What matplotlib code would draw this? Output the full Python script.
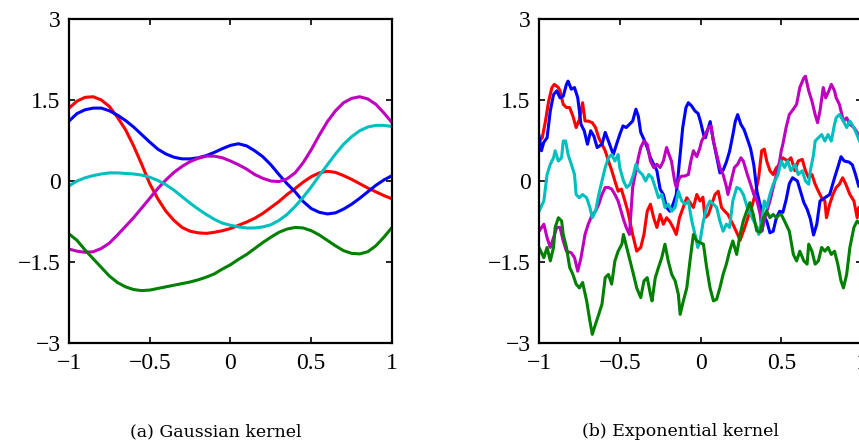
import matplotlib
matplotlib.use("Agg")
import matplotlib.pyplot as plt

# ---- (a) Gaussian kernel: values at a 0.05 step -------------------------------
gx = [-1.00, -0.95, -0.90, -0.85, -0.80, -0.75, -0.70, -0.65, -0.60, -0.55,
      -0.50, -0.45, -0.40, -0.35, -0.30, -0.25, -0.20, -0.15, -0.10, -0.05,
      0.00, 0.05, 0.10, 0.15, 0.20, 0.25, 0.30, 0.35, 0.40, 0.45,
      0.50, 0.55, 0.60, 0.65, 0.70, 0.75, 0.80, 0.85, 0.90, 0.95, 1.00]
g_red = [1.35, 1.48, 1.55, 1.56, 1.50, 1.38, 1.18, 0.95, 0.65, 0.31,
         -0.05, -0.33, -0.56, -0.73, -0.86, -0.93, -0.96, -0.97, -0.95, -0.92,
         -0.88, -0.82, -0.76, -0.69, -0.60, -0.49, -0.38, -0.25, -0.14, -0.02,
         0.08, 0.15, 0.18, 0.16, 0.10, 0.03, -0.05, -0.13, -0.20, -0.27, -0.33]
g_blue = [1.11, 1.25, 1.32, 1.35, 1.35, 1.30, 1.22, 1.12, 1.00, 0.86,
          0.72, 0.59, 0.50, 0.44, 0.41, 0.41, 0.43, 0.47, 0.53, 0.60,
          0.66, 0.69, 0.65, 0.56, 0.45, 0.30, 0.12, -0.05, -0.20, -0.38,
          -0.51, -0.58, -0.61, -0.59, -0.52, -0.43, -0.32, -0.20, -0.08, 0.02, 0.10]
g_mag = [-1.26, -1.30, -1.32, -1.31, -1.25, -1.15, -1.00, -0.84, -0.68, -0.50,
         -0.32, -0.14, 0.02, 0.16, 0.27, 0.36, 0.42, 0.46, 0.46, 0.43,
         0.37, 0.30, 0.22, 0.12, 0.05, 0.00, -0.01, 0.04, 0.15, 0.34,
         0.58, 0.85, 1.10, 1.30, 1.45, 1.53, 1.56, 1.52, 1.42, 1.26, 1.08]
g_cyan = [-0.09, 0.00, 0.06, 0.10, 0.13, 0.15, 0.15, 0.14, 0.13, 0.11,
          0.07, 0.01, -0.07, -0.17, -0.29, -0.41, -0.52, -0.62, -0.71, -0.78,
          -0.82, -0.85, -0.87, -0.87, -0.85, -0.81, -0.73, -0.62, -0.47, -0.30,
          -0.11, 0.10, 0.30, 0.50, 0.68, 0.82, 0.93, 1.00, 1.03, 1.03, 1.01]
g_green = [-0.98, -1.10, -1.28, -1.44, -1.60, -1.76, -1.88, -1.96, -2.01, -2.03,
           -2.02, -1.99, -1.96, -1.93, -1.90, -1.87, -1.83, -1.78, -1.72, -1.63,
           -1.55, -1.45, -1.36, -1.25, -1.14, -1.04, -0.95, -0.89, -0.86, -0.87,
           -0.92, -1.00, -1.10, -1.20, -1.29, -1.34, -1.35, -1.31, -1.20, -1.04, -0.86]

# ---- (b) Exponential kernel: rough paths ---------------------------------------
eb_x = [-1.0, -0.985, -0.97, -0.95, -0.93, -0.91, -0.89, -0.87, -0.85, -0.83,
        -0.82, -0.80, -0.78, -0.76, -0.74, -0.72, -0.70, -0.68, -0.66, -0.64,
        -0.61, -0.59, -0.57, -0.54, -0.52, -0.50, -0.48, -0.46, -0.44, -0.42,
        -0.40, -0.385, -0.37, -0.35, -0.33, -0.31, -0.29, -0.27, -0.25, -0.23,
        -0.21, -0.19, -0.17, -0.15, -0.13, -0.11, -0.09, -0.075, -0.055, -0.035,
        -0.015, 0.0, 0.02, 0.03, 0.045, 0.06, 0.08, 0.10, 0.12, 0.14,
        0.16, 0.18, 0.20, 0.215, 0.23, 0.25, 0.27, 0.29, 0.31, 0.33,
        0.35, 0.37, 0.39, 0.41, 0.43, 0.45, 0.47, 0.49, 0.51, 0.53,
        0.55, 0.57, 0.60, 0.62, 0.64, 0.66, 0.68, 0.70, 0.72, 0.74,
        0.77, 0.80, 0.83, 0.85, 0.87, 0.89, 0.92, 0.94, 0.96, 0.98, 1.0]
eb_y = [0.85, 0.56, 0.72, 0.80, 1.30, 1.60, 1.67, 1.54, 1.57, 1.79,
        1.85, 1.70, 1.73, 1.54, 1.05, 0.93, 0.68, 0.93, 0.83, 0.62,
        0.68, 0.90, 0.74, 0.49, 0.68, 0.86, 1.02, 0.99, 1.05, 1.11,
        1.33, 1.20, 0.90, 0.77, 0.62, 0.43, 0.31, 0.19, -0.15, -0.25,
        -0.49, -0.56, -0.43, -0.25, 0.37, 0.99, 1.36, 1.45, 1.39, 1.30,
        1.25, 1.10, 0.85, 0.80, 0.95, 1.10, 0.74, 0.45, 0.15, 0.20,
        0.35, 0.55, 0.85, 1.10, 1.23, 1.05, 0.95, 0.78, 0.60, 0.30,
        -0.20, -0.45, -0.65, -0.74, -0.96, -0.93, -0.68, -0.56, -0.58, -0.35,
        -0.05, 0.06, 0.00, -0.20, -0.40, -0.52, -0.70, -1.00, -0.80, -0.37,
        -0.31, -0.25, 0.06, 0.25, 0.45, 0.37, 0.35, 0.30, 0.12, -0.10, -0.05]

er_x = [-1.0, -0.98, -0.96, -0.94, -0.92, -0.905, -0.88, -0.87, -0.85, -0.83,
        -0.81, -0.79, -0.77, -0.75, -0.73, -0.715, -0.695, -0.67, -0.65, -0.63,
        -0.61, -0.59, -0.57, -0.55, -0.53, -0.51, -0.49, -0.47, -0.45, -0.42,
        -0.395, -0.37, -0.35, -0.33, -0.31, -0.29, -0.27, -0.25, -0.23, -0.21,
        -0.19, -0.17, -0.15, -0.13, -0.10, -0.085, -0.065, -0.044, -0.023, -0.003,
        0.015, 0.028, 0.049, 0.07, 0.09, 0.11, 0.13, 0.15, 0.17, 0.19,
        0.21, 0.23, 0.245, 0.275, 0.30, 0.317, 0.338, 0.36, 0.379, 0.395,
        0.41, 0.43, 0.45, 0.47, 0.49, 0.51, 0.54, 0.56, 0.585, 0.605,
        0.63, 0.65, 0.67, 0.69, 0.71, 0.73, 0.75, 0.77, 0.78, 0.80,
        0.82, 0.84, 0.86, 0.88, 0.90, 0.925, 0.95, 0.97, 0.98, 1.0]
er_y = [0.74, 0.80, 1.11, 1.48, 1.73, 1.79, 1.73, 1.67, 1.42, 1.36,
        1.36, 1.20, 0.99, 1.14, 1.45, 1.11, 1.11, 1.08, 0.99, 0.80,
        0.68, 0.56, 0.37, 0.20, 0.00, -0.19, -0.15, -0.35, -0.56, -0.99,
        -1.30, -1.23, -0.99, -0.56, -0.43, -0.68, -0.86, -0.62, -0.80, -0.68,
        -0.75, -0.86, -0.99, -0.68, -0.43, -0.31, -0.40, -0.49, -0.25, -0.37,
        -0.30, -0.68, -0.62, -0.43, -0.25, -0.19, -0.49, -0.56, -0.62, -0.74,
        -0.86, -0.99, -1.10, -0.85, -0.62, -0.49, -0.25, 0.06, 0.56, 0.59,
        0.37, 0.19, 0.12, 0.25, 0.30, 0.43, 0.37, 0.43, 0.19, 0.37,
        0.40, 0.19, 0.06, 0.12, -0.06, -0.19, -0.31, -0.37, -0.68, -0.43,
        -0.25, -0.12, -0.06, 0.06, -0.06, -0.25, -0.37, -0.68, -0.49, -0.55]

em_x = [-1.0, -0.97, -0.95, -0.93, -0.91, -0.89, -0.87, -0.85, -0.83, -0.80,
        -0.78, -0.76, -0.74, -0.715, -0.695, -0.67, -0.65, -0.63, -0.61, -0.59,
        -0.57, -0.55, -0.53, -0.51, -0.48, -0.46, -0.44, -0.43, -0.42, -0.40,
        -0.385, -0.37, -0.35, -0.33, -0.31, -0.29, -0.27, -0.25, -0.23, -0.21,
        -0.195, -0.18, -0.16, -0.15, -0.13, -0.116, -0.10, -0.075, -0.06, -0.044,
        -0.023, -0.005, 0.007, 0.03, 0.05, 0.065, 0.08, 0.10, 0.12, 0.14,
        0.16, 0.17, 0.19, 0.21, 0.23, 0.25, 0.265, 0.29, 0.31, 0.33,
        0.35, 0.37, 0.38, 0.39, 0.41, 0.43, 0.45, 0.47, 0.49, 0.50,
        0.51, 0.53, 0.55, 0.575, 0.595, 0.615, 0.64, 0.65, 0.67, 0.69,
        0.71, 0.725, 0.74, 0.76, 0.775, 0.795, 0.81, 0.83, 0.84, 0.86,
        0.885, 0.905, 0.925, 0.95, 0.97, 0.99, 1.0]
em_y = [-0.93, -0.80, -1.05, -1.23, -1.05, -0.86, -0.86, -1.11, -1.30, -1.33,
        -1.42, -1.67, -1.42, -0.99, -0.80, -0.62, -0.56, -0.43, -0.25, -0.12,
        -0.12, -0.15, -0.25, -0.37, -0.68, -0.86, -0.99, -0.56, -0.12, 0.19,
        0.43, 0.62, 0.74, 0.68, 0.37, 0.25, 0.31, 0.25, 0.37, 0.62,
        0.49, 0.37, 0.00, -0.12, 0.06, 0.09, 0.09, 0.12, 0.37, 0.56,
        0.45, 0.60, 0.74, 0.86, 0.99, 1.02, 0.74, 0.49, 0.25, 0.12,
        -0.10, -0.25, 0.00, 0.25, 0.31, 0.43, 0.37, 0.12, -0.06, -0.25,
        -0.37, -0.62, -0.93, -0.80, -0.56, -0.37, -0.12, 0.12, 0.37, 0.56,
        0.68, 0.99, 1.23, 1.33, 1.42, 1.73, 1.91, 1.94, 1.67, 1.48,
        1.23, 1.08, 1.30, 1.73, 1.54, 1.67, 1.79, 1.67, 1.54, 1.42,
        1.11, 1.17, 1.05, 0.99, 0.90, 0.74, 0.70]

ec_x = [-1.0, -0.97, -0.95, -0.93, -0.91, -0.90, -0.88, -0.86, -0.85, -0.835,
        -0.82, -0.80, -0.78, -0.77, -0.75, -0.73, -0.705, -0.685, -0.67, -0.65,
        -0.63, -0.61, -0.59, -0.57, -0.55, -0.53, -0.51, -0.50, -0.477, -0.457,
        -0.436, -0.415, -0.40, -0.385, -0.36, -0.34, -0.32, -0.30, -0.28, -0.26,
        -0.24, -0.22, -0.20, -0.178, -0.157, -0.137, -0.116, -0.095, -0.075, -0.054,
        -0.034, -0.017, -0.003, 0.018, 0.038, 0.059, 0.08, 0.10, 0.12, 0.14,
        0.16, 0.18, 0.20, 0.224, 0.245, 0.265, 0.29, 0.31, 0.33, 0.35,
        0.36, 0.38, 0.395, 0.41, 0.43, 0.45, 0.47, 0.48, 0.50, 0.52,
        0.54, 0.56, 0.585, 0.605, 0.63, 0.65, 0.67, 0.68, 0.70, 0.71,
        0.73, 0.75, 0.77, 0.79, 0.81, 0.83, 0.84, 0.86, 0.885, 0.905,
        0.925, 0.95, 0.97, 0.99, 1.0]
ec_y = [-0.56, -0.37, 0.12, 0.31, 0.43, 0.56, 0.37, 0.43, 0.74, 0.74,
        0.49, 0.31, 0.12, -0.25, -0.31, -0.25, -0.31, -0.49, -0.68, -0.56,
        -0.25, 0.00, 0.25, 0.43, 0.49, 0.37, 0.49, 0.25, 0.00, -0.12,
        -0.06, 0.12, 0.31, 0.19, 0.12, 0.00, 0.12, 0.06, -0.12, -0.31,
        -0.25, -0.49, -0.43, -0.56, -0.49, -0.19, -0.37, -0.43, -0.37, -0.74,
        -0.99, -1.23, -1.11, -0.74, -0.49, -0.37, -0.43, -0.49, -0.74, -0.93,
        -0.80, -0.86, -0.37, -0.12, -0.15, -0.25, -0.49, -0.62, -0.74, -0.86,
        -0.99, -0.74, -0.37, -0.49, -0.25, -0.06, 0.06, 0.12, 0.37, 0.25,
        0.37, 0.19, 0.31, 0.12, 0.19, 0.00, -0.06, 0.19, 0.49, 0.74,
        0.80, 0.86, 0.74, 0.86, 0.74, 1.05, 1.17, 1.23, 1.11, 0.99,
        1.11, 0.99, 0.85, 0.70, 0.65]

eg_x = [-1.0, -0.97, -0.95, -0.93, -0.91, -0.90, -0.88, -0.86, -0.85, -0.83,
        -0.81, -0.79, -0.77, -0.75, -0.73, -0.705, -0.685, -0.67, -0.65, -0.63,
        -0.61, -0.59, -0.57, -0.55, -0.53, -0.51, -0.487, -0.477, -0.457, -0.436,
        -0.415, -0.395, -0.37, -0.35, -0.33, -0.31, -0.30, -0.28, -0.26, -0.24,
        -0.22, -0.20, -0.178, -0.157, -0.137, -0.126, -0.106, -0.085, -0.065, -0.044,
        -0.023, -0.003, 0.018, 0.038, 0.059, 0.08, 0.10, 0.12, 0.14, 0.16,
        0.18, 0.20, 0.224, 0.245, 0.265, 0.286, 0.306, 0.327, 0.348, 0.37,
        0.39, 0.41, 0.43, 0.45, 0.47, 0.49, 0.50, 0.52, 0.55, 0.575,
        0.595, 0.615, 0.64, 0.66, 0.67, 0.69, 0.71, 0.73, 0.75, 0.77,
        0.79, 0.81, 0.83, 0.85, 0.87, 0.885, 0.905, 0.925, 0.95, 0.97,
        0.99, 1.0]
eg_y = [-1.23, -1.42, -1.23, -1.48, -1.23, -0.86, -0.68, -0.74, -0.99, -1.23,
        -1.60, -1.73, -1.91, -1.98, -1.88, -2.22, -2.59, -2.84, -2.65, -2.47,
        -2.28, -1.79, -1.73, -1.91, -1.48, -1.30, -1.17, -0.99, -1.23, -1.48,
        -1.73, -1.98, -2.16, -1.85, -1.79, -2.10, -2.22, -1.79, -1.60, -1.42,
        -1.17, -1.48, -1.73, -1.85, -2.10, -2.47, -2.22, -1.98, -1.48, -0.99,
        -1.11, -1.14, -1.17, -1.60, -1.98, -2.22, -2.19, -1.98, -1.73, -1.54,
        -1.30, -1.11, -1.36, -0.99, -0.74, -0.56, -0.40, -0.62, -0.92, -0.95,
        -0.68, -0.56, -0.68, -0.62, -0.68, -0.62, -0.62, -0.74, -0.93, -1.36,
        -1.48, -1.30, -1.48, -1.54, -1.17, -1.30, -1.54, -1.48, -1.23, -1.30,
        -1.23, -1.36, -1.30, -1.54, -1.85, -1.98, -1.73, -1.23, -0.86, -0.74,
        -0.80, -0.85]

ticks = [-1, -0.5, 0, 0.5, 1]
tick_labels = ["\u22121", "\u22120.5", "0", "0.5", "1"]
yticks = [-3, -1.5, 0, 1.5, 3]
ytick_labels = ["\u22123", "\u22121.5", "0", "1.5", "3"]
captions = ["(a) Gaussian kernel", "(b) Exponential kernel"]

plt.rcParams["font.family"] = ["Liberation Serif", "DejaVu Serif"]

fig = plt.figure(figsize=(8.59, 4.45), dpi=100)
ax1 = fig.add_axes([69 / 859, 102 / 445, 323 / 859, 324 / 445])
ax2 = fig.add_axes([539 / 859, 102 / 445, 323 / 859, 324 / 445])

lw = 2.2
for y, c in [(g_red, "r"), (g_blue, "b"), (g_mag, "m"), (g_cyan, "c"), (g_green, "g")]:
    ax1.plot(gx, y, color=c, lw=lw, solid_capstyle="round")

for x, y, c in [(er_x, er_y, "r"), (eb_x, eb_y, "b"), (em_x, em_y, "m"),
                (ec_x, ec_y, "c"), (eg_x, eg_y, "g")]:
    ax2.plot(x, y, color=c, lw=lw, solid_joinstyle="round", solid_capstyle="round")

for ax in (ax1, ax2):
    ax.set_xlim(-1, 1)
    ax.set_ylim(-3, 3)
    ax.set_xticks(ticks)
    ax.set_xticklabels(tick_labels)
    ax.set_yticks(yticks)
    ax.set_yticklabels(ytick_labels)
    ax.tick_params(direction="in", top=True, right=True, length=4, width=1.2,
                   labelsize=17)
    ax.tick_params(axis="x", pad=7)
    ax.tick_params(axis="y", pad=6)
    for s in ax.spines.values():
        s.set_linewidth(1.6)

fig.text(216 / 859, 13 / 445, captions[0], ha="center", va="center",
         fontsize=12.5, family="DejaVu Serif")
fig.text(680 / 859, 13 / 445, captions[1], ha="center", va="center",
         fontsize=12.5, family="DejaVu Serif")

fig.savefig("out.png", dpi=100)
